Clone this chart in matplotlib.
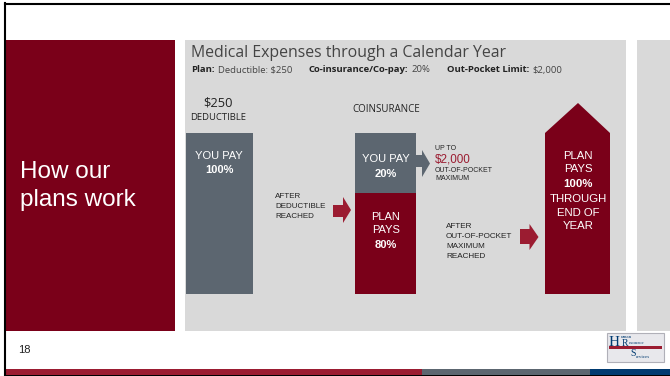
import matplotlib
matplotlib.use("Agg")
import matplotlib.pyplot as plt
from matplotlib.patches import Rectangle, Polygon

# ---- content ----
slide_title = ["How our", "plans work"]
chart_title = "Medical Expenses through a Calendar Year"
plan_items = [("Plan:", "Deductible: $250"), ("Co-insurance/Co-pay:", "20%"),
              ("Out-Pocket Limit:", "$2,000")]
deductible_amount = "$250"
oop_max = "$2,000"
you_pay_pct = ["100%", "20%"]
plan_pays_pct = ["80%", "100%"]
coins_split = [20, 80]   # you pay / plan pays (%)
page_number = "18"

MAROON = "#7a0019"
ARROWRED = "#9b1c31"
SLATE = "#5c6670"
BG = "#d9d9d9"
NAVY = "#003a70"
TXT = "#222222"

W, H = 670, 376
fig = plt.figure(figsize=(W / 100, H / 100), dpi=100)
ax = fig.add_axes([0, 0, 1, 1])
ax.set_xlim(0, W)
ax.set_ylim(H, 0)
ax.axis("off")

SANS = ["Liberation Sans", "DejaVu Sans"]
TSANS = ["Open Sans", "DejaVu Sans"]

def rect(x0, y0, x1, y1, color, z=1):
    ax.add_patch(Rectangle((x0, y0), x1 - x0, y1 - y0, facecolor=color, edgecolor="none", zorder=z))

def arrow(x0, x1, xh, by0, by1, hy0, hy1, color=ARROWRED, z=3):
    ym = (hy0 + hy1) / 2
    pts = [(x0, by0), (xh, by0), (xh, hy0), (x1, ym), (xh, hy1), (xh, by1), (x0, by1)]
    ax.add_patch(Polygon(pts, closed=True, facecolor=color, edgecolor="none", zorder=z))

# frame
ax.plot([4.5, 4.5], [3, 376], color="black", lw=1.5, zorder=10)
ax.plot([4.5, 670], [3.5, 3.5], color="black", lw=1.5, zorder=10)

# panels
rect(6, 40, 175, 331, MAROON)
rect(185, 40, 626, 331, BG)
rect(637, 40, 670, 331, BG)

# bottom bar
rect(5, 369, 422, 375, ARROWRED)
rect(422, 369, 590, 375, SLATE)
rect(590, 369, 670, 375, NAVY)
rect(5, 375, 670, 376, "black")

# slide title
ax.text(20, 172, slide_title[0], color="white", fontsize=17.5, family=SANS, va="center", ha="left")
ax.text(20, 200, slide_title[1], color="white", fontsize=17.5, family=SANS, va="center", ha="left")

# chart title
ax.text(191, 53, chart_title, color="#444444", fontsize=11.4, family=TSANS, va="center", ha="left")
x = 191
for i, (b, r) in enumerate(plan_items):
    t1 = ax.text(x, 70, b, color=TXT, fontsize=6.8, family=TSANS, weight="bold", va="center", ha="left")
    fig.canvas.draw()
    bb = t1.get_window_extent()
    x = bb.x1 + 3
    t2 = ax.text(x, 70, r, color="#444444", fontsize=6.8, family=TSANS, va="center", ha="left")
    fig.canvas.draw()
    x = t2.get_window_extent().x1 + 17

# deductible column
ax.text(218, 103, deductible_amount, color=TXT, fontsize=9.3, family=TSANS, ha="center", va="center")
ax.text(218, 117, "DEDUCTIBLE", color=TXT, fontsize=6.8, family=TSANS, ha="center", va="center")
rect(186, 133, 253, 294, SLATE, z=2)
ax.text(219, 156, "YOU PAY", color="white", fontsize=8, family=SANS, ha="center", va="center", zorder=4)
ax.text(219, 170, you_pay_pct[0], color="white", fontsize=8, family=SANS, weight="bold", ha="center", va="center", zorder=4)

# arrow 1
arrow(333, 351, 343, 205, 217, 197, 223)
for k, s in enumerate(["AFTER", "DEDUCTIBLE", "REACHED"]):
    ax.text(275, 196 + 10 * k, s, color=TXT, fontsize=5.8, family=SANS, ha="left", va="center")

# coinsurance column
ax.text(386, 109, "COINSURANCE", color=TXT, fontsize=7, family=TSANS, ha="center", va="center")
top, bot = 132.5, 294
split = top + (bot - top) * coins_split[0] / 100 * 1.88
rect(355, top, 416, split, SLATE, z=2)
rect(355, split, 416, bot, MAROON, z=2)
ax.text(386, 159, "YOU PAY", color="white", fontsize=8, family=SANS, ha="center", va="center", zorder=4)
ax.text(386, 174, you_pay_pct[1], color="white", fontsize=8, family=SANS, weight="bold", ha="center", va="center", zorder=4)
ax.text(386, 217, "PLAN", color="white", fontsize=8, family=SANS, ha="center", va="center", zorder=4)
ax.text(386, 230, "PAYS", color="white", fontsize=8, family=SANS, ha="center", va="center", zorder=4)
ax.text(386, 245, plan_pays_pct[0], color="white", fontsize=8, family=SANS, weight="bold", ha="center", va="center", zorder=4)

# arrow 2 (slate)
arrow(415, 430, 422, 155, 167, 150, 177, color=SLATE)
ax.text(435, 148, "UP TO", color=TXT, fontsize=5.0, family=SANS, ha="left", va="center")
ax.text(435, 160, oop_max, color=ARROWRED, fontsize=8.4, family=SANS, ha="left", va="center")
ax.text(435, 170, "OUT-OF-POCKET", color=TXT, fontsize=5.0, family=SANS, ha="left", va="center")
ax.text(435, 179, "MAXIMUM", color=TXT, fontsize=5.0, family=SANS, ha="left", va="center")

# arrow 3
arrow(520, 538.5, 529.5, 229, 244, 224, 250)
for k, s in enumerate(["AFTER", "OUT-OF-POCKET", "MAXIMUM", "REACHED"]):
    ax.text(446, 226 + 10 * k, s, color=TXT, fontsize=5.9, family=SANS, ha="left", va="center")

# big up arrow
pts = [(545, 294), (545, 133), (578, 103), (610, 133), (610, 294)]
ax.add_patch(Polygon(pts, closed=True, facecolor=MAROON, edgecolor="none", zorder=2))
lines = [("PLAN", "normal", 156), ("PAYS", "normal", 169), (plan_pays_pct[1], "bold", 184),
         ("THROUGH", "normal", 199), ("END OF", "normal", 213), ("YEAR", "normal", 226)]
for s, w, yy in lines:
    ax.text(578, yy, s, color="white", fontsize=8.2, family=SANS, weight=w, ha="center", va="center", zorder=4)

# page number
ax.text(18, 350, page_number, color=TXT, fontsize=8, family=SANS, ha="left", va="center")

# logo
ax.add_patch(Rectangle((607, 333), 57, 29, facecolor="#e8e8ec", edgecolor="#b0b0b8", lw=0.8, zorder=2))
rect(609, 346, 662, 349, ARROWRED, z=3)
ax.text(609, 342, "H", color=NAVY, fontsize=11, family=["Liberation Serif"], ha="left", va="center", zorder=4)
ax.text(621, 337.5, "uman", color=NAVY, fontsize=3.6, family=["Liberation Serif"], ha="left", va="center", zorder=4)
ax.text(622, 344, "R", color=NAVY, fontsize=7, family=["Liberation Serif"], ha="left", va="center", zorder=4)
ax.text(629, 343, "esource", color=NAVY, fontsize=3.6, family=["Liberation Serif"], ha="left", va="center", zorder=4)
ax.text(630, 354, "S", color=NAVY, fontsize=7, family=["Liberation Serif"], ha="left", va="center", zorder=4)
ax.text(636, 357, "ervices", color=NAVY, fontsize=3.6, family=["Liberation Serif"], ha="left", va="center", zorder=4)

fig.savefig("out.png", dpi=100, facecolor="white")
